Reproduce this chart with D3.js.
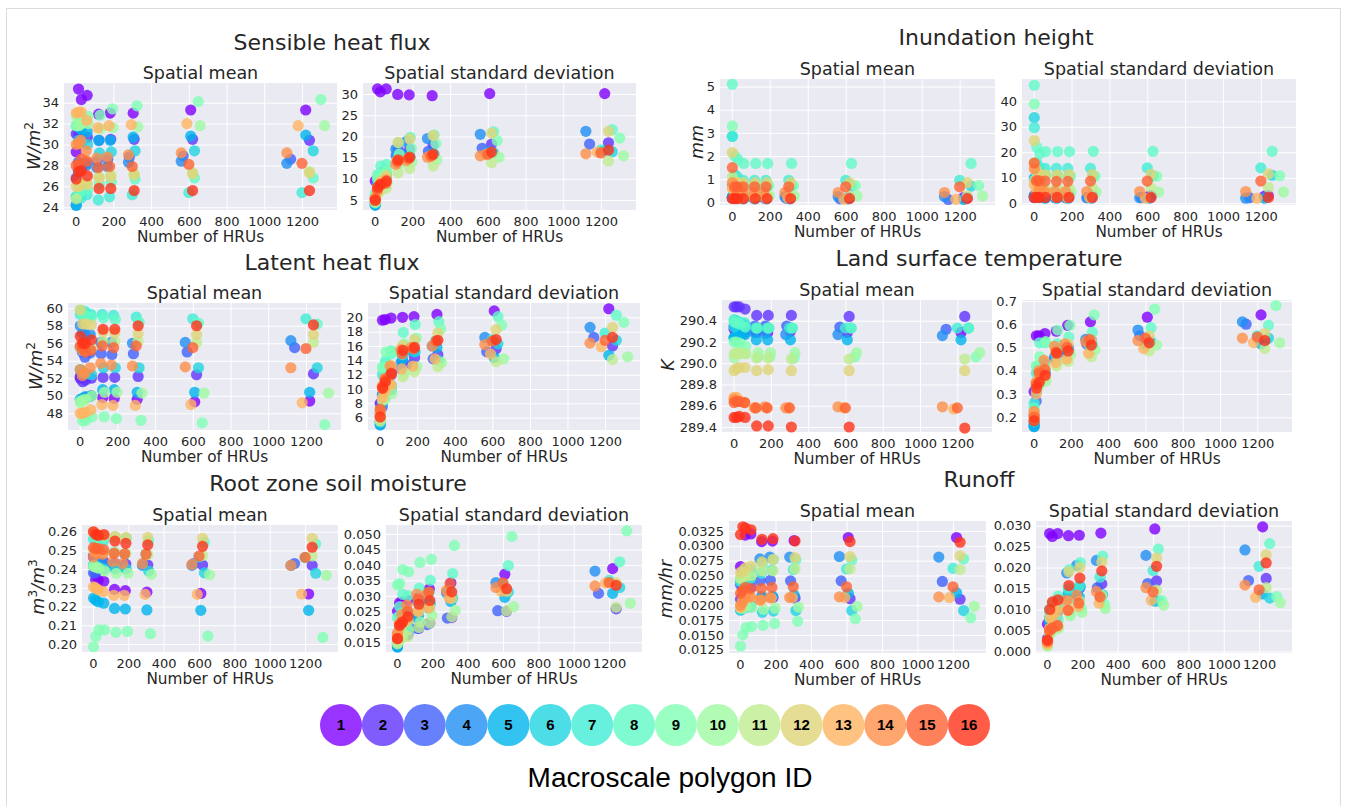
<!DOCTYPE html>
<html lang="en">

<head>
    <meta charset="utf-8">
    <title>Macroscale polygon scatter</title>
    <style>
        body {
            margin: 0;
            background: white;
        }

        text {
            font-family: "DejaVu Sans", sans-serif;
            fill: #262626;
        }

        .grid line {
            stroke: white;
            stroke-width: 1;
        }

        .legendNum {
            font: bold 15px "Liberation Sans", sans-serif;
            fill: black;
        }
    </style>
    <script src="https://cdn.jsdelivr.net/npm/d3@7"></script>
</head>

<body>
    <svg id="fig" width="1346" height="806"></svg>
    <script>
        const polygonIds = d3.range(1, 17);

        // every table: one row per HRU level, one column per polygon (1..16)
        const hruCounts = [
            [3, 3, 3, 3, 3, 3, 3, 3, 3, 4, 3, 3, 3, 3, 3, 3],
            [15, 16, 14, 14, 15, 16, 15, 16, 16, 17, 16, 16, 15, 14, 15, 16],
            [30, 31, 28, 28, 30, 32, 30, 32, 33, 33, 31, 31, 29, 28, 30, 31],
            [61, 62, 57, 56, 61, 63, 60, 63, 65, 66, 62, 62, 59, 56, 60, 62],
            [122, 124, 114, 112, 122, 126, 120, 126, 130, 132, 124, 124, 118, 112, 120, 124],
            [183, 186, 171, 168, 183, 189, 180, 189, 195, 198, 186, 186, 177, 168, 180, 186],
            [305, 310, 285, 280, 305, 315, 300, 315, 325, 330, 310, 310, 295, 280, 300, 310],
            [610, 620, 570, 560, 610, 630, 600, 630, 650, 660, 620, 620, 590, 560, 600, 620],
            [1220, 1240, 1140, 1120, 1220, 1260, 1200, 1260, 1300, 1320, 1240, 1240, 1180, 1120, 1200, 1240]
        ];

        const sensibleMean = [
            [29.3, 31.0, 26.8, 24.2, 24.2, 25.0, 25.0, 31.8, 31.8, 32.7, 24.8, 26.0, 33.0, 30.0, 28.0, 26.7],
            [35.3, 31.0, 28.3, 27.5, 31.7, 30.4, 25.0, 25.3, 32.3, 31.8, 26.0, 26.0, 33.1, 30.1, 28.0, 27.4],
            [34.3, 30.8, 28.0, 27.8, 31.4, 30.2, 24.9, 25.6, 32.6, 32.0, 26.2, 26.3, 33.1, 30.4, 28.6, 27.5],
            [34.7, 30.7, 28.2, 28.0, 31.2, 30.0, 25.2, 25.7, 32.7, 32.0, 26.2, 26.2, 32.3, 29.4, 28.4, 27.0],
            [32.9, 30.4, 28.4, 27.8, 30.4, 29.2, 24.7, 26.2, 32.8, 31.5, 26.9, 26.8, 31.6, 28.7, 27.8, 25.8],
            [33.0, 30.5, 28.6, 27.9, 30.4, 29.3, 25.0, 26.4, 33.4, 31.6, 27.1, 26.9, 31.8, 28.8, 27.9, 25.8],
            [33.0, 30.5, 28.8, 28.3, 30.7, 29.4, 25.2, 26.7, 33.7, 31.7, 27.2, 27.1, 31.9, 29.0, 27.9, 25.6],
            [33.3, 30.5, 28.9, 28.4, 30.8, 29.4, 25.4, 26.8, 34.1, 31.8, 27.3, 27.2, 32.0, 29.2, 28.1, 25.6],
            [33.3, 30.4, 28.6, 28.2, 30.9, 29.4, 25.4, 26.8, 34.3, 31.8, 27.4, 27.3, 31.8, 29.2, 28.2, 25.6]
        ];
        const sensibleStd = [
            [9.5, 5.5, 4.5, 3.8, 3.8, 4.2, 4.8, 6.5, 6.0, 4.7, 4.4, 5.0, 5.5, 5.4, 5.2, 4.9],
            [31.2, 9.3, 7.0, 9.0, 7.0, 8.5, 10.0, 11.0, 10.2, 7.5, 6.5, 8.0, 7.0, 7.4, 7.5, 8.0],
            [30.5, 10.0, 8.5, 10.5, 9.0, 10.0, 11.0, 13.0, 11.0, 8.5, 7.2, 9.5, 9.0, 8.5, 8.5, 8.7],
            [31.2, 11.0, 9.5, 12.0, 10.0, 11.0, 11.5, 13.4, 11.8, 9.0, 7.8, 10.8, 10.0, 9.0, 9.0, 9.5],
            [29.9, 17.0, 15.5, 17.0, 15.0, 14.5, 14.5, 18.5, 15.8, 13.5, 11.4, 18.6, 14.2, 13.4, 14.0, 14.5],
            [29.8, 17.0, 16.0, 18.8, 15.5, 15.0, 15.0, 19.8, 17.2, 14.0, 12.4, 19.4, 14.8, 14.3, 14.8, 15.1],
            [29.6, 18.0, 16.5, 19.5, 16.0, 15.8, 15.5, 20.3, 18.3, 14.5, 13.0, 20.2, 15.2, 15.1, 15.4, 15.8],
            [30.1, 18.2, 17.2, 20.5, 16.4, 16.2, 16.0, 21.1, 19.0, 15.1, 13.8, 20.8, 15.7, 15.4, 15.8, 16.3],
            [30.1, 18.5, 18.2, 21.2, 16.7, 16.4, 16.8, 21.6, 19.6, 15.4, 14.2, 21.2, 16.3, 15.9, 16.1, 16.8]
        ];
        const latentMean = [
            [52.0, 52.2, 55.5, 58.0, 49.6, 53.0, 59.3, 59.8, 49.4, 49.2, 55.5, 59.8, 48.0, 53.0, 55.7, 56.8],
            [49.6, 51.6, 55.0, 57.1, 49.7, 52.6, 59.7, 59.3, 47.1, 49.5, 55.2, 58.2, 48.0, 52.3, 55.3, 56.0],
            [49.8, 51.8, 54.4, 57.0, 49.9, 52.5, 59.6, 59.2, 47.2, 49.6, 55.2, 58.2, 48.1, 52.6, 55.0, 56.0],
            [50.0, 52.0, 54.9, 57.0, 50.0, 52.4, 59.3, 59.0, 47.6, 50.0, 55.4, 58.1, 48.4, 53.2, 55.2, 56.4],
            [49.8, 52.1, 54.8, 56.1, 50.7, 53.2, 59.3, 58.9, 47.6, 50.4, 56.2, 57.3, 49.0, 53.7, 55.7, 57.6],
            [49.7, 52.1, 54.7, 56.1, 50.7, 53.2, 59.2, 58.7, 47.4, 50.4, 56.2, 57.2, 48.9, 53.5, 55.5, 57.6],
            [49.6, 52.2, 54.8, 56.0, 50.4, 53.2, 59.0, 58.4, 47.2, 50.3, 56.2, 57.1, 48.9, 53.4, 55.7, 58.0],
            [49.3, 52.4, 55.0, 56.1, 50.4, 53.2, 58.8, 58.3, 46.9, 50.3, 56.1, 57.0, 49.0, 53.3, 55.5, 58.0],
            [49.4, 52.5, 55.5, 56.3, 50.4, 53.2, 58.8, 58.2, 46.7, 50.3, 56.1, 57.0, 49.2, 53.2, 55.4, 58.1]
        ];
        const latentStd = [
            [8.0, 6.5, 5.5, 5.0, 5.0, 5.4, 6.0, 7.0, 6.5, 5.8, 5.5, 6.0, 6.2, 6.9, 7.2, 6.1],
            [19.6, 9.2, 7.5, 9.2, 8.0, 9.0, 12.0, 13.0, 13.0, 8.4, 8.5, 10.0, 8.8, 10.4, 10.3, 10.1],
            [19.7, 11.0, 9.8, 11.0, 9.0, 10.0, 13.6, 14.0, 15.2, 8.7, 9.5, 11.0, 9.7, 11.5, 11.3, 11.0],
            [19.9, 12.0, 12.4, 12.2, 9.9, 10.5, 15.3, 14.9, 15.3, 9.4, 10.5, 13.3, 10.6, 13.2, 12.0, 12.2],
            [20.0, 13.8, 12.8, 13.6, 14.2, 14.8, 14.8, 17.9, 16.3, 12.2, 11.7, 16.1, 12.8, 15.5, 14.9, 15.4],
            [20.1, 14.4, 13.4, 15.4, 15.2, 15.2, 15.8, 19.0, 17.1, 13.1, 12.4, 16.9, 13.2, 15.8, 15.6, 15.8],
            [20.4, 14.8, 14.2, 16.0, 15.8, 14.0, 16.8, 19.4, 18.4, 13.7, 13.1, 17.8, 14.2, 16.0, 16.7, 16.8],
            [20.9, 15.6, 15.2, 17.2, 14.4, 16.3, 16.9, 20.1, 18.9, 14.2, 13.8, 18.3, 14.9, 16.2, 16.7, 16.9],
            [21.2, 16.0, 17.2, 18.6, 14.7, 16.8, 17.8, 20.3, 19.3, 14.5, 14.1, 18.6, 15.9, 16.4, 16.8, 17.2]
        ];
        const soilMean = [
            [.2465, .2470, .2380, .2420, .2245, .2420, .2560, .2420, .1985, .2415, .2500, .2600, .2305, .2465, .2515, .2600],
            [.2345, .2450, .2380, .2430, .2235, .2420, .2565, .2565, .2040, .2410, .2495, .2590, .2300, .2490, .2510, .2585],
            [.2340, .2445, .2395, .2430, .2225, .2410, .2560, .2565, .2075, .2405, .2495, .2585, .2290, .2485, .2510, .2580],
            [.2335, .2440, .2430, .2430, .2218, .2400, .2550, .2570, .2075, .2390, .2490, .2580, .2280, .2480, .2505, .2585],
            [.2292, .2430, .2425, .2415, .2190, .2400, .2490, .2570, .2062, .2378, .2490, .2575, .2260, .2440, .2485, .2550],
            [.2285, .2427, .2420, .2410, .2187, .2400, .2480, .2565, .2067, .2378, .2485, .2570, .2260, .2430, .2482, .2538],
            [.2277, .2422, .2428, .2420, .2182, .2390, .2480, .2552, .2055, .2372, .2478, .2570, .2265, .2430, .2480, .2530],
            [.2270, .2422, .2430, .2420, .2180, .2380, .2465, .2543, .2042, .2370, .2473, .2565, .2265, .2425, .2470, .2522],
            [.2267, .2420, .2430, .2420, .2180, .2378, .2462, .2535, .2035, .2367, .2470, .2565, .2267, .2420, .2463, .2517]
        ];
        const soilStd = [
            [.0250, .0150, .0140, .0135, .0135, .0145, .0175, .0230, .0335, .0150, .0145, .0165, .0175, .0180, .0162, .0162],
            [.0278, .0165, .0165, .0195, .0170, .0200, .0235, .0265, .0340, .0170, .0160, .0195, .0210, .0210, .0205, .0205],
            [.0280, .0170, .0175, .0205, .0185, .0210, .0245, .0305, .0385, .0180, .0165, .0210, .0220, .0240, .0215, .0215],
            [.0285, .0175, .0180, .0215, .0200, .0220, .0250, .0300, .0378, .0190, .0168, .0220, .0225, .0270, .0250, .0233],
            [.0295, .0195, .0195, .0230, .0235, .0255, .0280, .0325, .0408, .0215, .0198, .0250, .0250, .0305, .0288, .0273],
            [.0322, .0212, .0207, .0285, .0260, .0275, .0310, .0350, .0418, .0237, .0212, .0262, .0262, .0305, .0312, .0285],
            [.0342, .0230, .0228, .0310, .0282, .0293, .0318, .0372, .0463, .0253, .0232, .0292, .0293, .0317, .0340, .0313],
            [.0370, .0250, .0252, .0343, .0295, .0312, .0335, .0398, .0492, .0265, .0252, .0315, .0315, .0327, .0342, .0323],
            [.0388, .0258, .0308, .0380, .0308, .0327, .0350, .0410, .0510, .0276, .0263, .0342, .0342, .0332, .0343, .0334]
        ];
        const inundationMean = [
            [.2, .2, .2, .7, .25, 2.85, 2.85, 5.1, 3.3, .6, 1.1, 2.15, .6, .85, 1.5, .16],
            [.2, .2, .2, .7, .2, .75, 1.2, 2.0, .8, .3, .35, .85, .2, .6, .67, .16],
            [.2, .2, .18, .2, .2, .7, 1.1, 1.85, .8, .3, .3, .85, .2, .45, .67, .16],
            [.2, .2, .18, .2, .15, .7, .95, 1.68, .75, .3, .3, .85, .2, .45, .67, .16],
            [.2, .2, .18, .22, .15, .7, .95, 1.68, .72, .28, .3, .85, .2, .43, .67, .16],
            [.2, .2, .18, .25, .15, .7, .95, 1.68, .72, .28, .28, .85, .2, .42, .67, .16],
            [.2, .2, .18, .25, .15, .7, .95, 1.68, .72, .27, .28, .85, .2, .42, .67, .16],
            [.2, .2, .15, .25, .15, .7, .95, 1.68, .72, .27, .28, .85, .13, .42, .67, .16],
            [.2, .2, .12, .25, .12, .7, .95, 1.68, .72, .27, .28, .85, .13, .42, .67, .16]
        ];
        const inundationStd = [
            [3, 2.5, 2.2, 9.8, 3, 33.6, 29.7, 46.3, 38.9, 9, 15.8, 24.6, 7.4, 13.5, 15.8, 2.3],
            [3, 2.5, 2.5, 9, 2.5, 12, 16, 22, 12, 6, 7, 13, 5, 9, 8.8, 2.3],
            [3, 2.5, 2.3, 3, 2.2, 11, 14, 19.5, 11, 5.5, 6.5, 11.2, 4.6, 5, 8.8, 2.3],
            [3, 3, 2.2, 2.5, 2, 11, 13.7, 20.3, 11, 5, 6, 11.2, 4.5, 4.7, 8.7, 2.3],
            [3, 3, 2.2, 2.3, 2, 10.6, 13.7, 20.3, 10.8, 4.5, 6, 11.2, 2.5, 4.7, 8.6, 2.3],
            [2.8, 3, 2.2, 2.2, 2, 10.6, 13.7, 20.3, 10.6, 4.4, 6, 11.3, 2.3, 4.6, 8.6, 2.3],
            [2.8, 3, 2.2, 2.2, 2, 10.8, 13.7, 20.4, 10.6, 4.4, 6, 11.3, 2.3, 4.6, 8.7, 2.3],
            [2.8, 3, 2.2, 2.2, 2, 10.8, 13.9, 20.4, 10.6, 4.4, 6, 11.4, 2, 4.6, 8.7, 2.3],
            [2.8, 3, 2.2, 2, 2, 11, 13.9, 20.4, 10.8, 4.4, 6.2, 11.5, 2, 4.6, 8.7, 2.3]
        ];
        const lstMean = [
            [290.32, 290.53, 290.35, 290.24, 290.24, 290.34, 290.41, 290.39, 290.20, 290.05, 290.09, 289.93, 289.68, 289.66, 289.63, 289.49],
            [290.31, 290.53, 290.36, 290.27, 290.25, 290.36, 290.40, 290.38, 290.20, 290.10, 290.09, 289.95, 289.68, 289.65, 289.64, 289.49],
            [290.31, 290.53, 290.36, 290.27, 290.27, 290.36, 290.39, 290.37, 290.19, 290.10, 290.09, 289.96, 289.65, 289.64, 289.64, 289.50],
            [290.30, 290.51, 290.36, 290.28, 290.27, 290.35, 290.38, 290.34, 290.16, 290.09, 290.09, 289.96, 289.63, 289.63, 289.63, 289.49],
            [290.29, 290.45, 290.35, 290.29, 290.22, 290.33, 290.33, 290.33, 290.06, 290.10, 290.05, 289.93, 289.58, 289.58, 289.58, 289.41],
            [290.29, 290.45, 290.35, 290.28, 290.22, 290.33, 290.33, 290.33, 290.06, 290.10, 290.05, 289.94, 289.58, 289.59, 289.58, 289.41],
            [290.30, 290.45, 290.35, 290.27, 290.22, 290.33, 290.33, 290.33, 290.05, 290.10, 290.04, 289.93, 289.58, 289.58, 289.58, 289.40],
            [290.29, 290.44, 290.34, 290.27, 290.22, 290.33, 290.33, 290.33, 290.06, 290.10, 290.04, 289.93, 289.58, 289.59, 289.58, 289.40],
            [290.29, 290.44, 290.32, 290.26, 290.22, 290.33, 290.33, 290.33, 290.06, 290.10, 290.04, 289.93, 289.57, 289.59, 289.58, 289.39]
        ];
        const lstStd = [
            [.31, .21, .17, .16, .16, .18, .26, .24, .22, .19, .19, .22, .21, .225, .20, .185],
            [.55, .33, .27, .33, .31, .35, .39, .42, .42, .32, .33, .35, .30, .35, .34, .325],
            [.55, .36, .35, .35, .36, .37, .42, .52, .46, .34, .36, .38, .36, .40, .39, .35],
            [.56, .39, .38, .37, .38, .40, .43, .52, .525, .355, .37, .41, .385, .445, .405, .38],
            [.57, .47, .46, .455, .46, .49, .47, .515, .575, .44, .42, .48, .435, .505, .48, .475],
            [.595, .50, .49, .48, .49, .49, .50, .545, .595, .47, .44, .515, .45, .515, .50, .485],
            [.61, .53, .515, .535, .52, .51, .505, .565, .64, .49, .46, .53, .475, .525, .535, .51],
            [.63, .52, .55, .575, .52, .525, .51, .585, .665, .51, .485, .55, .495, .53, .54, .52],
            [.64, .53, .60, .61, .515, .54, .55, .595, .68, .52, .495, .56, .52, .54, .545, .53]
        ];
        const runoffMean = [
            [.0265, .0210, .0235, .0240, .0192, .0192, .0240, .0245, .0131, .0195, .0245, .0255, .0196, .0200, .0220, .0319],
            [.0255, .0218, .0230, .0240, .0198, .0195, .0240, .0250, .0150, .0195, .0248, .0258, .0208, .0205, .0225, .0332],
            [.0318, .0225, .0235, .0255, .0200, .0196, .0245, .0255, .0162, .0198, .0250, .0263, .0213, .0213, .0230, .0330],
            [.0320, .0230, .0240, .0260, .0200, .0197, .0245, .0260, .0164, .0197, .0250, .0266, .0213, .0215, .0228, .0327],
            [.0307, .0213, .0241, .0278, .0215, .0188, .0254, .0270, .0166, .0193, .0258, .0273, .0208, .0209, .0228, .0311],
            [.0308, .0213, .0242, .0281, .0215, .0190, .0259, .0277, .0169, .0195, .0258, .0277, .0212, .0213, .0230, .0312],
            [.0309, .0212, .0241, .0281, .0217, .0191, .0260, .0276, .0173, .0197, .0261, .0280, .0213, .0213, .0231, .0308],
            [.0314, .0211, .0241, .0282, .0220, .0191, .0261, .0276, .0177, .0198, .0261, .0282, .0213, .0214, .0231, .0307],
            [.0314, .0210, .0240, .0281, .0221, .0191, .0262, .0278, .0179, .0198, .0260, .0283, .0213, .0214, .0231, .0306]
        ];
        const runoffStd = [
            [.0065, .0030, .0025, .0020, .0018, .0018, .0022, .0025, .0015, .0012, .0014, .0018, .0018, .0022, .0025, .0027],
            [.0281, .0080, .0068, .0075, .0070, .0080, .0095, .0100, .0050, .0040, .0045, .0080, .0055, .0050, .0050, .0100],
            [.0274, .0095, .0075, .0090, .0085, .0095, .0110, .0115, .0060, .0050, .0055, .0090, .0075, .0055, .0056, .0118],
            [.0281, .0105, .0080, .0100, .0095, .0105, .0120, .0132, .0075, .0055, .0058, .0105, .0095, .0060, .0062, .0123],
            [.0276, .0125, .0130, .0187, .0140, .0140, .0150, .0195, .0092, .0085, .0118, .0190, .0098, .0122, .0098, .0157],
            [.0277, .0152, .0140, .0205, .0130, .0155, .0155, .0212, .0102, .0093, .0120, .0200, .0107, .0134, .0115, .0175],
            [.0282, .0161, .0152, .0217, .0128, .0135, .0177, .0227, .0112, .0102, .0133, .0213, .0115, .0143, .0130, .0192],
            [.0292, .0168, .0162, .0229, .0120, .0120, .0193, .0244, .0121, .0110, .0146, .0223, .0122, .0152, .0142, .0203],
            [.0297, .0174, .0169, .0242, .0137, .0127, .0203, .0257, .0131, .0116, .0152, .0230, .0129, .0158, .0147, .0211]
        ];

        const xTicks = [0, 200, 400, 600, 800, 1000, 1200];

        const panels = [
            { rows: sensibleMean, box: [64, 337, 83, 210], yDom: [23.74, 35.88], yTicks: d3.range(24, 35, 2), fmt: "d", title: "Spatial mean" },
            { rows: sensibleStd, box: [363, 636, 83, 210], yDom: [2.64, 32.6], yTicks: d3.range(5, 31, 5), fmt: "d", title: "Spatial standard deviation" },
            { rows: latentMean, box: [68, 341, 303, 430], yDom: [46.09, 60.6], yTicks: d3.range(48, 61, 2), fmt: "d", title: "Spatial mean" },
            { rows: latentStd, box: [368, 640, 303, 430], yDom: [4.28, 22.0], yTicks: d3.range(6, 21, 2), fmt: "d", title: "Spatial standard deviation" },
            { rows: soilMean, box: [82, 338, 525, 652], yDom: [.1957, .2636], yTicks: [.20, .21, .22, .23, .24, .25, .26], fmt: ".2f", title: "Spatial mean" },
            { rows: soilStd, box: [386, 642, 525, 652], yDom: [.01186, .0529], yTicks: [.015, .020, .025, .030, .035, .040, .045, .050], fmt: ".3f", title: "Spatial standard deviation" },
            { rows: inundationMean, box: [720, 995, 79, 205], yDom: [-.117, 5.33], yTicks: [0, 1, 2, 3, 4, 5], fmt: "d", title: "Spatial mean" },
            { rows: inundationStd, box: [1022, 1296, 79, 205], yDom: [-.67, 48.75], yTicks: [0, 10, 20, 30, 40], fmt: "d", title: "Spatial standard deviation" },
            { rows: lstMean, box: [722, 992, 300, 432], yDom: [289.353, 290.595], yTicks: [289.4, 289.6, 289.8, 290.0, 290.2, 290.4], fmt: ".1f", title: "Spatial mean" },
            { rows: lstStd, box: [1022, 1292, 300, 432], yDom: [.1366, .704], yTicks: [.2, .3, .4, .5, .6, .7], fmt: ".1f", title: "Spatial standard deviation" },
            { rows: runoffMean, box: [729, 986, 521, 653], yDom: [.01195, .03418], yTicks: [.0125, .015, .0175, .02, .0225, .025, .0275, .03, .0325], fmt: ".4f", title: "Spatial mean" },
            { rows: runoffStd, box: [1036, 1292, 521, 653], yDom: [-.00038, .0311], yTicks: [0, .005, .01, .015, .02, .025, .03], fmt: ".3f", title: "Spatial standard deviation" }
        ];

        const groupTitles = [
            ["Sensible heat flux", 332, 50], ["Latent heat flux", 332, 270], ["Root zone soil moisture", 338, 491],
            ["Inundation height", 996, 45], ["Land surface temperature", 979, 266], ["Runoff", 979, 487]
        ];
        // unit, superscript, x, y
        const yLabels = [
            ["W/m", "2", 40, 146], ["W/m", "2", 42, 366], ["m", "3", 44, 587],
            ["mm", "", 703, 142], ["K", "", 674, 365], ["mm/hr", "", 672, 589]
        ];

        // matplotlib rainbow map
        const rainbow = t => d3.rgb(255 * Math.abs(2 * t - .5), 255 * Math.sin(Math.PI * t), 255 * Math.cos(Math.PI * t / 2));
        const color = d3.scaleOrdinal().domain(polygonIds).range(polygonIds.map(id => rainbow((id - 1) / 16)));

        const svg = d3.select("#fig");

        // thin frame round the figure
        svg.append("rect").attr("x", 6.5).attr("y", 8.5).attr("width", 1334).attr("height", 830)
            .attr("fill", "none").attr("stroke", "#dcdcdc");

        panels.forEach(p => {
            const [left, right, top, bottom] = p.box;
            const x = d3.scaleLinear().domain([-62, 1386]).range([left, right]);
            const y = d3.scaleLinear().domain(p.yDom).range([bottom, top]);

            svg.append("rect").attr("x", left).attr("y", top)
                .attr("width", right - left).attr("height", bottom - top).attr("fill", "#EAEAF2");

            const xAxis = svg.append("g").attr("class", "grid")
                .attr("transform", `translate(0,${bottom})`)
                .call(d3.axisBottom(x).tickValues(xTicks).tickFormat(d3.format("d")).tickSizeOuter(0).tickSizeInner(-(bottom - top)).tickPadding(7));
            const yAxis = svg.append("g").attr("class", "grid")
                .attr("transform", `translate(${left},0)`)
                .call(d3.axisLeft(y).tickValues(p.yTicks).tickFormat(d3.format(p.fmt)).tickSizeOuter(0).tickSizeInner(-(right - left)).tickPadding(5));
            [xAxis, yAxis].forEach(a => {
                a.select(".domain").remove();
                a.selectAll("text").style("font", '13px "DejaVu Sans"').style("fill", "#262626");
            });

            const points = polygonIds.flatMap((id, i) =>
                p.rows.map((row, level) => ({ id: id, hru: hruCounts[level][i], v: row[i] })));

            svg.append("g").selectAll("circle")
                .data(points)
                .join("circle")
                .attr("cx", d => x(d.hru))
                .attr("cy", d => y(d.v))
                .attr("r", 5.6)
                .attr("fill", d => color(d.id))
                .attr("fill-opacity", .8);

            svg.append("text").attr("x", (left + right) / 2).attr("y", bottom + 32)
                .attr("text-anchor", "middle").style("font-size", "15.3px").text("Number of HRUs");
            svg.append("text").attr("x", (left + right) / 2).attr("y", top - 4)
                .attr("text-anchor", "middle").style("font-size", "17.5px").text(p.title);
        });

        groupTitles.forEach(t => {
            svg.append("text").attr("x", t[1]).attr("y", t[2]).attr("text-anchor", "middle")
                .style("font-size", "22px").text(t[0]);
        });

        yLabels.forEach(l => {
            const label = svg.append("text").attr("transform", `translate(${l[2]},${l[3]}) rotate(-90)`)
                .attr("text-anchor", "middle").style("font-size", "17.5px").style("font-style", "italic");
            label.append("tspan").text(l[0]);
            if (l[1]) {
                label.append("tspan").attr("dy", -7).style("font-size", "12px").style("font-style", "normal").text(l[1]);
                if (l[0] == "m") {
                    label.append("tspan").attr("dy", 7).text("/m");
                    label.append("tspan").attr("dy", -7).style("font-size", "12px").style("font-style", "normal").text("3");
                }
            }
        });

        // polygon legend
        const legendX = d3.scalePoint().domain(polygonIds).range([341, 969]);
        const legend = svg.append("g").selectAll("g").data(polygonIds).join("g")
            .attr("transform", d => `translate(${legendX(d)},725)`);
        legend.append("circle").attr("r", 21).attr("fill", d => color(d)).attr("fill-opacity", .8);
        legend.append("text").attr("class", "legendNum").attr("text-anchor", "middle").attr("dy", 5).text(d => d);

        svg.append("text").attr("x", 670).attr("y", 787).attr("text-anchor", "middle")
            .style("font", '28px "Liberation Sans"').style("fill", "black").text("Macroscale polygon ID");
    </script>
</body>

</html>
